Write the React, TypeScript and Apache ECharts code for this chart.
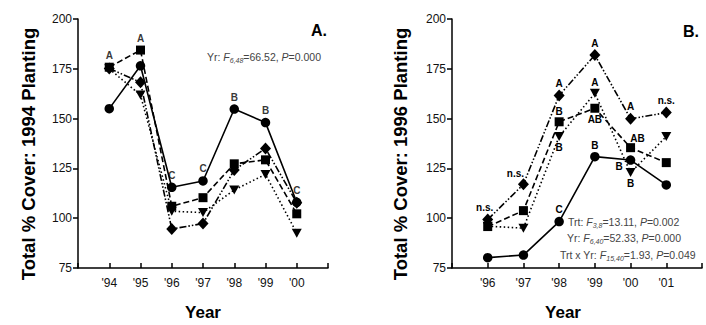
import React, { useEffect, useRef } from "react";
import * as echarts from "echarts";

// Panel A: 1994 planting
const yearsA = [1994, 1995, 1996, 1997, 1998, 1999, 2000];
const circleA = [155, 176.5, 115.5, 118.7, 154.8, 148, 108];
const squareA = [175.8, 184.4, 106, 110.3, 127.3, 129.3, 102.2];
const diamondA = [175.2, 168.2, 94.6, 97.3, 124.2, 135, 107.8];
const triangleA = [175, 161.8, 103.5, 102.8, 114.2, 122, 92.5];
const lettersA = ["A", "A", "C", "C", "B", "B", "C"];

// Panel B: 1996 planting
const yearsB = [1996, 1997, 1998, 1999, 2000, 2001];
const circleB = [80.2, 81.5, 98.3, 130.9, 129.2, 116.7];
const squareB = [95.8, 103.8, 148.4, 155.2, 135.4, 127.9];
const triangleB = [96, 95, 141, 162.7, 122.9, 141];
const diamondB = [99.3, 117, 161.6, 181.9, 149.9, 153];
const diamondLabelsB = ["n.s.", "n.s.", "A", "A", "A", "n.s."];
const squareLabelsB = ["", "", "B", "AB", "AB", ""];
const triangleLabelsB = ["", "", "B", "A", "B", ""];
const circleLabelsB = ["", "", "C", "B", "B", ""];

const yTicks = [75, 100, 125, 150, 175, 200];

const FONT = "Liberation Sans, Arial, Helvetica, sans-serif";

function App() {
  const ref = useRef<HTMLDivElement>(null);
  useEffect(() => {
    if (!ref.current) return;
    const chart = echarts.init(ref.current, undefined, { renderer: "svg" });

    const styles: Record<string, any> = {
      circle: { symbol: "circle", symbolSize: 9.5, symbolRotate: 0, lineType: "solid" },
      square: { symbol: "rect", symbolSize: 9, symbolRotate: 0, lineType: [6, 3] },
      diamond: { symbol: "diamond", symbolSize: [11, 12], symbolRotate: 0, lineType: [7, 2, 1.5, 2, 1.5, 2] },
      triangle: { symbol: "triangle", symbolSize: [10, 9], symbolRotate: 180, lineType: [1.5, 2.5] },
    };

    const labelFont = {
      fontFamily: FONT,
      fontSize: 10,
      fontWeight: "bold",
      color: "#000",
      textBorderWidth: 0,
      textShadowBlur: 0,
    };

    const mkSeries = (
      name: string,
      years: number[],
      vals: number[],
      axis: number,
      labels?: string[],
      places?: any[]
    ) => {
      const s = styles[name];
      return {
        type: "line",
        name: name + axis,
        xAxisIndex: axis,
        yAxisIndex: axis,
        symbol: s.symbol,
        symbolSize: s.symbolSize,
        symbolRotate: s.symbolRotate,
        showAllSymbol: true,
        lineStyle: { color: "#000", width: 1.6, type: s.lineType },
        itemStyle: { color: "#000" },
        z: name === "diamond" ? 4 : name === "circle" ? 3 : 2,
        data: years.map((y, i) => {
          const item: any = { value: [y, vals[i]] };
          if (labels && labels[i]) {
            const p = (places && places[i]) || {};
            item.label = {
              show: true,
              formatter: labels[i],
              position: p.position || "top",
              distance: p.distance ?? 1,
              offset: p.offset || [0, 0],
              ...labelFont,
            };
          }
          return item;
        }),
      };
    };

    const diamondPlaces = [
      { position: "top", distance: 1, offset: [-3, 0] },
      { position: "top", distance: 0, offset: [-8, 0] },
      {}, {}, {}, {},
    ];
    const squarePlaces = [null, null, { position: "top" }, { position: "bottom", distance: 1.5 }, { position: "top", distance: 0, offset: [7, 0] }, null];
    const trianglePlaces = [null, null, { position: "bottom", distance: 1.5 }, { position: "top" }, { position: "bottom", distance: 1.5 }, null];
    const circlePlaces = [null, null, { position: "top", distance: 2 }, { position: "top" }, { position: "left", distance: 3, offset: [0, 6] }, null];

    const maxA = yearsA.map((_, i) => Math.max(circleA[i], squareA[i], diamondA[i], triangleA[i]));

    const xAxisBase = (min: number, max: number, first: number, last: number, grid: number) => ({
      type: "value",
      gridIndex: grid,
      min,
      max,
      interval: 1,
      axisLine: { show: true, onZero: false, lineStyle: { color: "#000", width: 1.5 } },
      axisTick: { show: true, inside: true, length: 5, lineStyle: { color: "#000", width: 1.5 } },
      splitLine: { show: false },
      axisLabel: {
        margin: 9,
        fontFamily: FONT,
        fontSize: 12,
        color: "#111",
        formatter: (v: number) => (v >= first && v <= last ? "'" + String(v).slice(2) : ""),
      },
    });
    const yAxisBase = (grid: number) => ({
      type: "value",
      gridIndex: grid,
      min: yTicks[0],
      max: yTicks[yTicks.length - 1],
      interval: 25,
      axisLine: { show: true, lineStyle: { color: "#000", width: 1.5 } },
      axisTick: { show: true, inside: false, length: 5, lineStyle: { color: "#000", width: 1.5 } },
      splitLine: { show: false },
      axisLabel: { margin: 6, fontFamily: FONT, fontSize: 12, color: "#111" },
    });

    const rich = {
      n: { fontFamily: FONT, fontSize: 10.5, color: "#444", lineHeight: 14 },
      i: { fontFamily: FONT, fontSize: 10.5, color: "#444", fontStyle: "italic", lineHeight: 14 },
      s: { fontFamily: FONT, fontSize: 7, color: "#444", fontStyle: "italic", lineHeight: 7, verticalAlign: "bottom" },
    };
    const statText = (text: string, x: number, y: number) => ({
      type: "text",
      x,
      y,
      style: { text, rich, align: "left", verticalAlign: "middle", fill: "#444", font: "10.5px " + FONT },
    });
    const bigText = (text: string, x: number, y: number, size: number, rot = 0, align = "center") => ({
      type: "text",
      x,
      y,
      rotation: rot,
      style: {
        text,
        align,
        verticalAlign: "middle",
        fill: "#000",
        font: "bold " + size + "px " + FONT,
      },
    });

    const option: any = {
      animation: false,
      grid: [
        { left: 78, top: 19, width: 250, height: 249 },
        { left: 452, top: 19, width: 250, height: 249 },
      ],
      xAxis: [xAxisBase(1993, 2001, 1994, 2000, 0), xAxisBase(1995, 2002, 1996, 2001, 1)],
      yAxis: [yAxisBase(0), yAxisBase(1)],
      series: [
        mkSeries("triangle", yearsA, triangleA, 0),
        mkSeries("square", yearsA, squareA, 0),
        mkSeries("circle", yearsA, circleA, 0),
        mkSeries("diamond", yearsA, diamondA, 0),
        {
          type: "scatter",
          xAxisIndex: 0,
          yAxisIndex: 0,
          symbolSize: 0,
          itemStyle: { color: "#000" },
          z: 5,
          data: yearsA.map((y, i) => [y, maxA[i]]),
          label: {
            show: true,
            position: "top",
            distance: 7,
            formatter: (p: any) => lettersA[p.dataIndex],
            ...labelFont,
          },
        },
        mkSeries("triangle", yearsB, triangleB, 1, triangleLabelsB, trianglePlaces),
        mkSeries("square", yearsB, squareB, 1, squareLabelsB, squarePlaces),
        mkSeries("circle", yearsB, circleB, 1, circleLabelsB, circlePlaces),
        mkSeries("diamond", yearsB, diamondB, 1, diamondLabelsB, diamondPlaces),
      ],
      graphic: [
        bigText("A.", 319, 30, 16),
        bigText("B.", 691, 31, 16),
        bigText("Total % Cover: 1994 Planting", 28, 154, 18.5, Math.PI / 2),
        bigText("Total % Cover: 1996 Planting", 400, 154, 18.5, Math.PI / 2),
        bigText("Year", 203, 312, 17),
        bigText("Year", 563, 312, 17),
        statText("{n|Yr: }{i|F}{s|6,48}{n|=66.52, }{i|P}{n|=0.000}", 207, 57),
        statText("{n|Trt: }{i|F}{s|3,8}{n|=13.11, }{i|P}{n|=0.002}", 568, 222),
        statText("{n|Yr: }{i|F}{s|6,40}{n|=52.33, }{i|P}{n|=0.000}", 567, 238),
        statText("{n|Trt x Yr: }{i|F}{s|15,40}{n|=1.93, }{i|P}{n|=0.049}", 560, 255),
      ],
    };
    chart.setOption(option);
    return () => chart.dispose();
  }, []);
  return (
    <div
      ref={ref}
      style={{ position: "fixed", left: 0, top: 0, width: 706, height: 325, background: "#fff" }}
    />
  );
}

export default App;
